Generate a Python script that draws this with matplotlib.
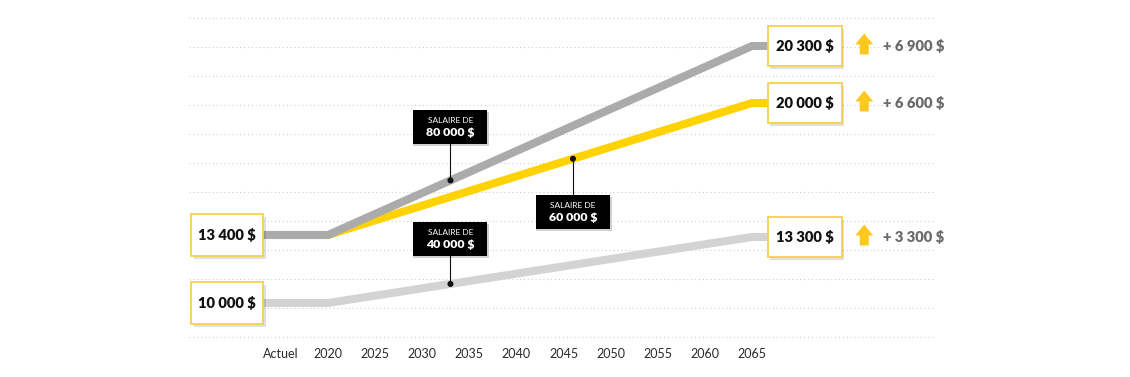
import numpy as np
import matplotlib.pyplot as plt
import matplotlib.transforms as mtransforms
from matplotlib.patches import Rectangle, Polygon, Circle

plt.rcParams['font.family'] = ['Lato', 'DejaVu Sans']

# ===== DATA =====
tick_pos = [2015, 2020, 2025, 2030, 2035, 2040, 2045, 2050, 2055, 2060, 2065]
tick_labels = ['Actuel', '2020', '2025', '2030', '2035', '2040', '2045',
               '2050', '2055', '2060', '2065']

start_year = 2020
end_year = 2065
salaries = ['80 000 $', '60 000 $', '40 000 $']
start_values = [13400, 13400, 10000]
end_values = [20300, 20000, 13300]
gains = ['+ 6 900 $', '+ 6 600 $', '+ 3 300 $']
# year where each salary callout points on its line
callout_years = [2033, 2046, 2033]

# ===== STYLE =====
line_colors = ['#ababab', '#ffd200', '#d3d3d3']
yellow_edge = '#f3d24a'
arrow_color = '#ffc81e'
gain_color = '#6a6a6a'

# the original chart is not drawn to scale: the top series is stretched
brk_in = [0, 10000, 20000, 20300, 40000]
brk_out = [0, 10000, 20000, 22850, 42550]


def fwd(v):
    return np.interp(v, brk_in, brk_out)


def inv(v):
    return np.interp(v, brk_out, brk_in)


W, H = 1130, 377
fig = plt.figure(figsize=(W / 100, H / 100), dpi=100)
ax_bottom_px = 345
ax = fig.add_axes([0, 1 - ax_bottom_px / H, 1, ax_bottom_px / H])
ax.set_yscale('function', functions=(fwd, inv))
ax.set_xlim(1985.19, 1985.19 + W / 9.422)
ax.set_ylim(inv(10000 - (ax_bottom_px - 303) * 50), inv(10000 + 303 * 50))

for s in ax.spines.values():
    s.set_visible(False)
ax.set_yticks([])
ax.set_xticks(tick_pos)
ax.set_xticklabels(tick_labels, fontsize=9, color='#2a2a2a')
ax.tick_params(axis='x', length=0, pad=2.5)

# dotted guide lines
xt = ax.get_xaxis_transform()
for k in range(12):
    py = 17.5 + 29 * k
    yf = 1 - py / ax_bottom_px
    ax.plot([2005.3, 2084.4], [yf, yf], transform=xt, color='#cfcfcf',
            lw=0.8, ls=(0, (1, 2.5)), zorder=0)


def px_trans(x, y):
    # transform placing objects in pixel offsets around a data point
    return fig.dpi_scale_trans + mtransforms.ScaledTranslation(x, y, ax.transData)


def box(x, y, w, h):
    t = px_trans(x, y)
    ax.add_patch(Rectangle(((-w / 2 + 2.5) / 100, (-h / 2 - 2.5) / 100), w / 100, h / 100,
                           transform=t, facecolor='#000000', alpha=0.12,
                           edgecolor='none', zorder=4.9))
    ax.add_patch(Rectangle((-w / 2 / 100, -h / 2 / 100), w / 100, h / 100,
                           transform=t, facecolor='white', edgecolor=yellow_edge,
                           lw=1.3, zorder=5))


def money(v):
    return f'{v:,}'.replace(',', ' ') + ' $'


left_x = 2009.3
right_x = 2070.6

# draw order: yellow first, then gray on top
for i in [2, 1, 0]:
    xs = [left_x, start_year, end_year, right_x]
    ys = [start_values[i], start_values[i], end_values[i], end_values[i]]
    ax.plot(xs, ys, color=line_colors[i], lw=5.8, solid_capstyle='butt',
            solid_joinstyle='miter', zorder=2 + (2 - i) * 0.1)

# left value boxes
for v in sorted(set(start_values)):
    box(left_x, v, 72, 42)
    ax.text(left_x, v, money(v), ha='center', va='center', fontsize=10.6,
            fontweight='heavy', color='#111111', zorder=6)

# right value boxes, arrows and gains
for i in range(3):
    v = end_values[i]
    box(right_x, v, 74, 40)
    ax.text(right_x, v, money(v), ha='center', va='center', fontsize=10.6,
            fontweight='heavy', color='#111111', zorder=6)
    t = px_trans(right_x, v)
    pts = np.array([[-9, 1.5], [0, 12.5], [9, 1.5], [4.5, 1.5], [4.5, -8.5],
                    [-4.5, -8.5], [-4.5, 1.5]], dtype=float)
    pts[:, 0] += 59.5
    ax.add_patch(Polygon(pts / 100, closed=True, transform=t,
                         facecolor=arrow_color, edgecolor='none', zorder=6))
    ax.text(78 / 100, 0, gains[i], transform=t, ha='left', va='center',
            fontsize=10.6, fontweight='heavy', color=gain_color, zorder=6)

# salary callouts
offsets = [53, -53, 45]
for i in range(3):
    xc = callout_years[i]
    yc = inv(np.interp(xc, [start_year, end_year],
                       [fwd(start_values[i]), fwd(end_values[i])]))
    t = px_trans(xc, yc)
    dy = offsets[i]
    h = 34
    edge = dy - np.sign(dy) * h / 2
    ax.plot([0, 0], [0, edge / 100], transform=t, color='#111111', lw=0.8, zorder=7)
    ax.add_patch(Circle((0, 0), 2.3 / 100, transform=t, color='#111111', zorder=7))
    ax.add_patch(Rectangle((-37 / 100, (dy - h / 2 - 2) / 100), 76 / 100, h / 100,
                           transform=t, facecolor='#000000', alpha=0.18,
                           edgecolor='none', zorder=7.5))
    ax.add_patch(Rectangle((-37 / 100, (dy - h / 2) / 100), 74 / 100, h / 100,
                           transform=t, facecolor='#000000', edgecolor='none', zorder=8))
    ax.text(0, (dy + 6.5) / 100, 'SALAIRE DE', transform=t, ha='center',
            va='center', fontsize=6, color='white', zorder=9)
    ax.text(0, (dy - 5.5) / 100, salaries[i], transform=t, ha='center',
            va='center', fontsize=8.8, fontweight='heavy', color='white', zorder=9)

fig.savefig('out.png', dpi=100, facecolor='white')
